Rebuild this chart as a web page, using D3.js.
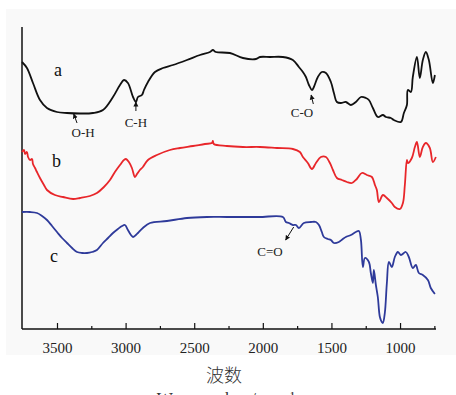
<!DOCTYPE html>
<html><head><meta charset="utf-8">
<script src="https://cdn.jsdelivr.net/npm/d3@7"></script>
<style>
html,body{margin:0;padding:0;background:#fff;}
svg{display:block;}
.serif{font-family:"Liberation Serif","DejaVu Serif","Times New Roman",serif;}
</style></head>
<body>
<svg id="chart" width="456" height="395"></svg>
<script>
// ---- data (wavenumber cm-1, relative transmittance a.u.) ----
const wnA = [3755,3719,3675,3624,3573,3500,3427,3332,3238,3165,3092,3041,3012,2983,2946,2925,2910,2881,2866,2837,2786,2728,2655,2553,2458,2385,2364,2342,2240,2145,2050,2021,1948,1854,1781,1737,1708,1686,1664,1642,1628,1599,1570,1540,1504,1482,1460,1431,1395,1358,1322,1285,1249,1227,1198,1162,1125,1103,1067,1045,994,972,950,943,921,907,877,856,834,812,790,761,746];
const tA  = [267,261,246,229,221,217,216,215.5,216,219,232,244,249,246,232,227,232,234,239,247,257,261,264,269,274,277,279,277,276,271,270,272,272,272,269,262,257,252,244,239,242,252,257,256,247,236,227,226,227,224,227,232,231,229,221,212,214,212,211,209,207,216,224,239,237,252,272,251,269,277,269,246,254];

const wnB = [3755,3740,3733,3719,3711,3697,3682,3675,3660,3646,3624,3595,3573,3515,3456,3383,3332,3260,3209,3158,3114,3078,3041,3012,2997,2976,2954,2932,2917,2896,2874,2837,2772,2677,2604,2509,2422,2371,2364,2357,2262,2145,2021,1897,1781,1730,1708,1672,1642,1613,1577,1540,1511,1489,1460,1424,1387,1351,1315,1278,1242,1205,1183,1169,1154,1125,1096,1060,1038,1001,979,965,950,943,914,892,877,856,834,812,783,761,739];
const tB  = [177,179,175,177,172,169,170,165,161,157,151,144,139,134,132,130,131,133,136,142,149,157,164,169,170,167,161,152,155,159,162,169,174,179,181,183,185,186,188,185,183,182,182,181,180,177,172,166,160,166,172,172,166,159,151,149,147,146,150,156,154,152,144,139,127,134,131,126,122,120,126,144,169,166,171,182,187,172,182,186,181,167,172];

const wnC = [3755,3697,3646,3609,3573,3536,3500,3463,3427,3390,3354,3318,3281,3245,3209,3165,3128,3092,3056,3026,3005,2983,2961,2946,2925,2910,2874,2822,2699,2553,2407,2262,2028,1854,1832,1810,1781,1759,1737,1701,1650,1613,1591,1570,1555,1526,1504,1482,1446,1417,1395,1358,1322,1300,1285,1271,1256,1227,1213,1198,1191,1176,1162,1147,1133,1125,1111,1096,1081,1060,1038,1016,994,958,936,907,885,863,834,797,776,746];
const tC  = [117,117,116,113,109,103,97,91,86,81,77,76,76,77,79,86,91,96,100,103,104,99,94,92,94,96,101,106,108,111,112,112,112,112,107,106,104,104,101,106,107,107,104,97,92,90,89,86,87,90,92,94,97,98,89,62,71,67,56,46,59,44,32,12,7,6,16,46,67,62,72,77,74,77,72,61,64,56,54,49,41,35];

const tickMajor = [3500,3000,2500,2000,1500,1000];
const tickMinor = [3250,2750,2250,1750,1250,750];

const seriesNames = ["a","b","c"];
const seriesColors = ["#111111","#e8262a","#2e3a9a"];
const labelPos = [[3522,253],[3536,162],[3551,67]];

// annotations: [text, label wn, label t, arrow from wn, from t, to wn, to t]
const annText = ["O-H","C-H","C-O","C=O"];
const annLabel = [[3310,192],[2925,202],[1715,212],[1948,73]];
const annArrow = [[3354,206,3378,215],[2925,218,2925,227],[1632,225,1648,234],[1775,102,1834,89]];

// ---- drawing ----
const svg = d3.select("#chart");
const x = d3.scaleLinear().domain([3755,738]).range([22,436]);
const y = d3.scaleLinear().domain([0,302]).range([329,27]);

svg.append("rect").attr("x",6).attr("y",9).attr("width",450).attr("height",346).attr("fill","#f9f9f9");

const defs = svg.append("defs");
defs.append("marker").attr("id","arr").attr("viewBox","0 0 10 10").attr("refX",9).attr("refY",5)
  .attr("markerWidth",5).attr("markerHeight",6).attr("orient","auto-start-reverse").attr("markerUnits","userSpaceOnUse")
  .append("path").attr("d","M0,0 L10,5 L0,10 z").attr("fill","#111");

// axes
const xAxis = d3.axisBottom(x).tickValues(tickMajor).tickSize(-6).tickPadding(13).tickFormat(d3.format("d"));
const gx = svg.append("g").attr("transform","translate(0,329)").call(xAxis);
gx.select(".domain").remove();
gx.attr("font-family",null).attr("font-size",null);
gx.selectAll(".tick line").attr("stroke","#111").attr("stroke-width",1.2);
gx.selectAll(".tick text").attr("class","serif").style("font-size","15px").attr("fill","#222");
const gm = svg.append("g").attr("transform","translate(0,329)").call(d3.axisBottom(x).tickValues(tickMinor).tickSize(-3).tickFormat(""));
gm.select(".domain").remove();
gm.selectAll(".tick line").attr("stroke","#111").attr("stroke-width",1.2);

svg.append("line").attr("x1",22).attr("x2",436).attr("y1",329).attr("y2",329).attr("stroke","#111").attr("stroke-width",1.5);
svg.append("line").attr("x1",22).attr("x2",22).attr("y1",27).attr("y2",329).attr("stroke","#111").attr("stroke-width",1.5);

// lines
const line = d3.line().x(d=>x(d[0])).y(d=>y(d[1])).curve(d3.curveCatmullRom.alpha(0.5));
const all = [[wnA,tA],[wnB,tB],[wnC,tC]];
all.forEach((s,i)=>{
  const pts = s[0].map((w,j)=>[w,s[1][j]]);
  svg.append("path").datum(pts).attr("d",line).attr("fill","none")
    .attr("stroke",seriesColors[i]).attr("stroke-width",1.8).attr("stroke-linejoin","round");
  svg.append("text").attr("class","serif").attr("x",x(labelPos[i][0])).attr("y",y(labelPos[i][1]))
    .style("font-size","18px").attr("fill","#111")
    .text(seriesNames[i]);
});

// annotations
annText.forEach((t,i)=>{
  svg.append("text").attr("class","serif").attr("x",x(annLabel[i][0])).attr("y",y(annLabel[i][1])).attr("text-anchor","middle")
    .style("font-size","13px").attr("fill","#222").text(t);
  const a = annArrow[i];
  svg.append("line").attr("x1",x(a[0])).attr("y1",y(a[1])).attr("x2",x(a[2])).attr("y2",y(a[3]))
    .attr("stroke","#111").attr("stroke-width",1).attr("marker-end","url(#arr)");
});

// axis titles
svg.append("text").attr("x",224).attr("y",382).attr("text-anchor","middle")
  .style("font-family","'Noto Sans CJK SC',sans-serif").style("font-size","18px").attr("font-weight","300").attr("fill","#333").text("波数");
svg.append("text").attr("class","serif").attr("x",226).attr("y",404).attr("text-anchor","middle")
  .style("font-size","17px").attr("fill","#333")
  .text("Wavenumber / cm⁻¹");
</script>
</body></html>
